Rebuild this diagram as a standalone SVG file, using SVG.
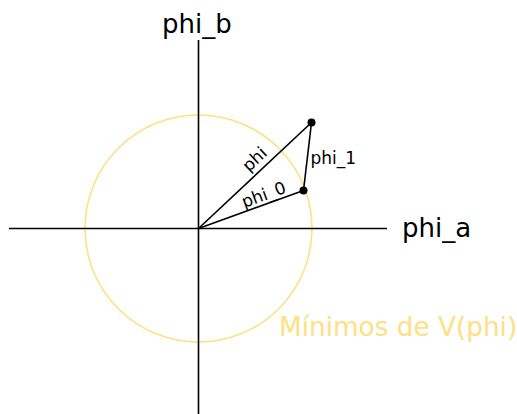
<svg xmlns="http://www.w3.org/2000/svg" width="517" height="414" viewBox="0 0 517 414">
<style>
.ax{stroke:#000;stroke-width:1.6;fill:none}
.vec{stroke:#000;stroke-width:1.6;fill:none}
.big{font-family:"DejaVu Sans",sans-serif;font-size:26px;fill:#000}
.sm{font-family:"DejaVu Sans",sans-serif;font-size:17px;fill:#000}
.min{font-family:"DejaVu Sans",sans-serif;font-size:26.3px;fill:#ffe083}
.dot{fill:#000}
</style>
<rect width="517" height="414" fill="#fff"/>
<g id="circle">
<circle cx="198.5" cy="228.5" r="113.5" fill="none" stroke="#ffe083" stroke-width="1.6"/>
<text class="min" x="279" y="335.5">Mínimos de V(phi)</text>
</g>
<g id="axes">
<line class="ax" x1="9" y1="228.5" x2="387" y2="228.5"/>
<line class="ax" x1="198.5" y1="40" x2="198.5" y2="414"/>
<text class="big" x="402" y="237">phi_a</text>
<text class="big" x="162" y="33">phi_b</text>
</g>
<g id="connectors">
<line class="vec" x1="198.5" y1="228.5" x2="311.5" y2="122.5"/>
<line class="vec" x1="198.5" y1="228.5" x2="303.5" y2="190.5"/>
<line class="vec" x1="311.5" y1="122.5" x2="303.5" y2="190.5"/>
</g>
<g id="phi">
<circle class="dot" cx="311.5" cy="122.5" r="4"/>
<text class="sm" text-anchor="middle" transform="translate(262,167) rotate(-43.4)" x="0" y="-5">phi</text>
</g>
<g id="phi_0">
<circle class="dot" cx="303.5" cy="190.5" r="4"/>
<text class="sm" text-anchor="middle" transform="translate(267,204) rotate(-20.1)" x="0" y="-4">phi_0</text>
</g>
<g id="phi_1">
<text class="sm" x="310.5" y="164">phi_1</text>
</g>
</svg>
